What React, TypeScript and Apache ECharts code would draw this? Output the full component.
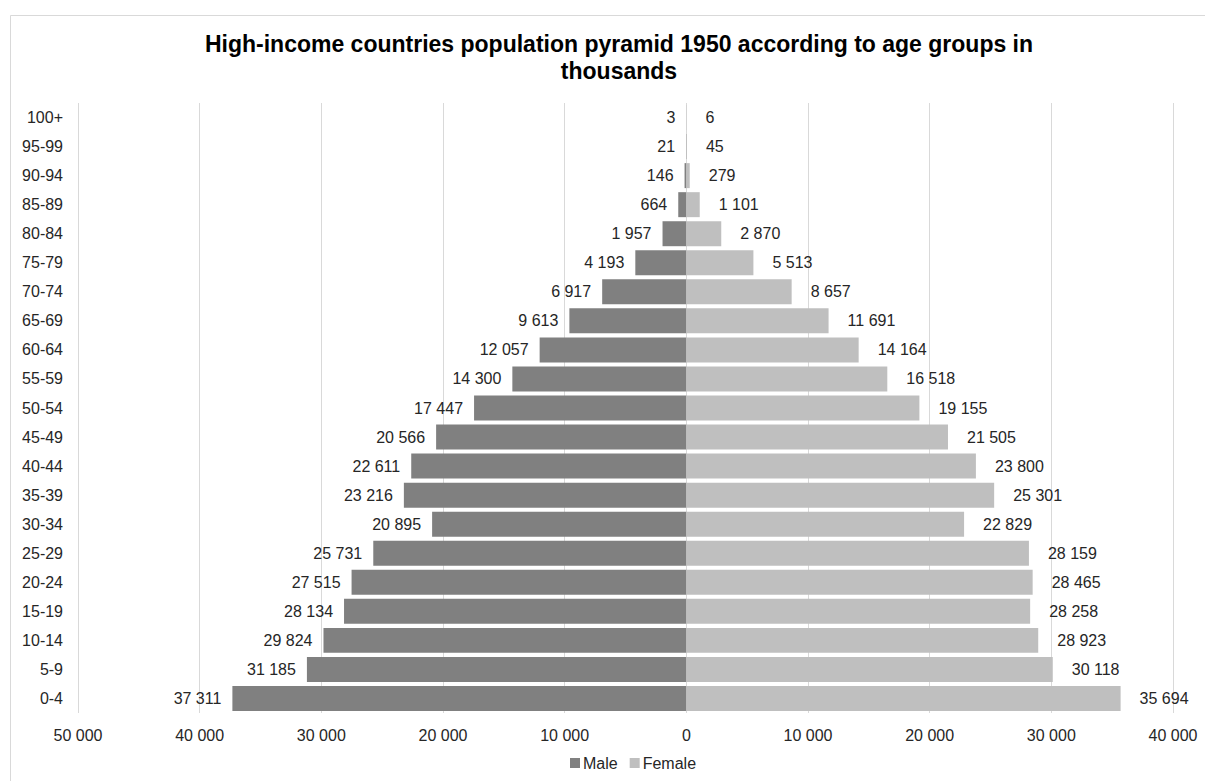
import React, { useEffect, useRef } from "react";
import * as echarts from "echarts";

const ageGroups = ["0-4","5-9","10-14","15-19","20-24","25-29","30-34","35-39","40-44","45-49","50-54","55-59","60-64","65-69","70-74","75-79","80-84","85-89","90-94","95-99","100+"];
const maleValues = [37311,31185,29824,28134,27515,25731,20895,23216,22611,20566,17447,14300,12057,9613,6917,4193,1957,664,146,21,3];
const femaleValues = [35694,30118,28923,28258,28465,28159,22829,25301,23800,21505,19155,16518,14164,11691,8657,5513,2870,1101,279,45,6];
const titleText = "High-income countries population pyramid 1950 according to age groups in\nthousands";

const fmt = (v: number) => {
  const s = String(Math.abs(Math.round(v)));
  return s.replace(/\B(?=(\d{3})+(?!\d))/g, " ");
};

const FONT = "'Liberation Sans', Arial, sans-serif";
const TXT = "#262626";

export default function App() {
  const ref = useRef<HTMLDivElement>(null);
  useEffect(() => {
    if (!ref.current) return;
    const chart = echarts.init(ref.current, null, { renderer: "svg" });
    chart.setOption({
      animation: false,
      backgroundColor: "#ffffff",
      textStyle: { fontFamily: FONT },
      graphic: [
        {
          type: "rect",
          shape: { x: 10.5, y: 15.5, width: 1220, height: 800 },
          style: { fill: "none", stroke: "#d9d9d9", lineWidth: 1 },
          silent: true,
        },
      ],
      title: {
        text: titleText,
        left: 614,
        top: 25,
        textAlign: "center",
        textStyle: { fontFamily: FONT, fontSize: 23, fontWeight: "bold", color: "#000", lineHeight: 27 },
      },
      legend: {
        bottom: 5,
        left: 565,
        itemWidth: 10,
        itemHeight: 10,
        itemGap: 12,
        icon: "rect",
        textStyle: { fontFamily: FONT, fontSize: 16, color: TXT, padding: [0, 0, 0, -2] },
        data: ["Male", "Female"],
      },
      grid: { left: 78, right: 32, top: 103, bottom: 68, containLabel: false },
      xAxis: {
        type: "value",
        min: -50000,
        max: 40000,
        interval: 10000,
        axisLine: { show: false },
        axisTick: { show: false },
        splitLine: { show: true, lineStyle: { color: "#d9d9d9", width: 1 } },
        axisLabel: { fontFamily: FONT, fontSize: 16, color: TXT, margin: 14, formatter: (v: number) => fmt(v) },
      },
      yAxis: {
        type: "category",
        data: ageGroups,
        axisLine: { show: false, onZero: false },
        axisTick: { show: false },
        splitLine: { show: false },
        axisLabel: { fontFamily: FONT, fontSize: 16, color: TXT, margin: 15 },
      },
      series: [
        {
          name: "Male",
          type: "bar",
          stack: "total",
          barCategoryGap: "14%",
          data: maleValues.map((v) => -v),
          itemStyle: { color: "#808080" },
          label: {
            show: true,
            position: "left",
            distance: 11,
            fontFamily: FONT,
            fontSize: 16,
            color: TXT,
            formatter: (p: any) => fmt(p.value),
          },
        },
        {
          name: "Female",
          type: "bar",
          stack: "total",
          barCategoryGap: "14%",
          data: femaleValues,
          itemStyle: { color: "#bfbfbf" },
          label: {
            show: true,
            position: "right",
            distance: 19,
            fontFamily: FONT,
            fontSize: 16,
            color: TXT,
            formatter: (p: any) => fmt(p.value),
          },
        },
      ],
    });
    return () => chart.dispose();
  }, []);
  return (
    <div
      ref={ref}
      style={{ position: "fixed", left: 0, top: 0, width: 1205, height: 781 }}
    />
  );
}
